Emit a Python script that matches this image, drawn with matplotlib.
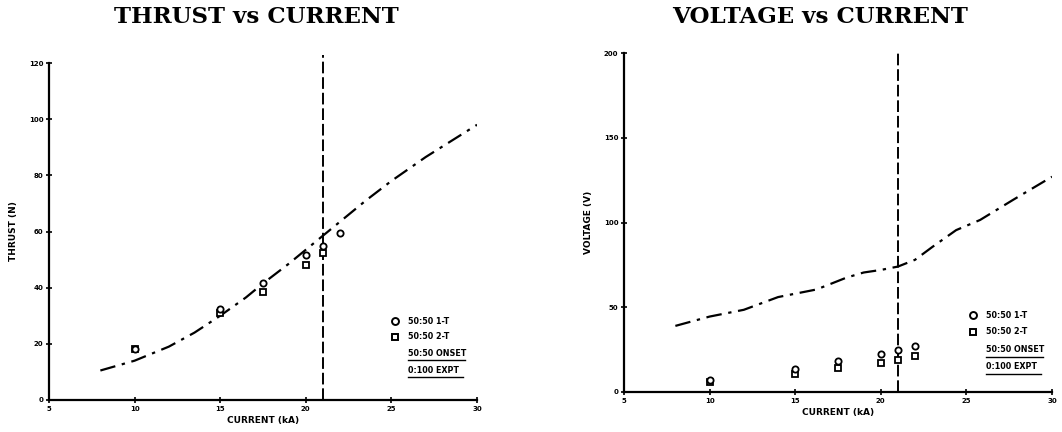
import matplotlib
matplotlib.use("Agg")
import matplotlib.pyplot as plt

# ---------------- data ----------------
x_ticks = [5, 10, 15, 20, 25, 30]
thrust_ticks = [0, 20, 40, 60, 80, 100, 120]
voltage_ticks = [0, 50, 100, 150, 200]

# THRUST vs CURRENT
thrust_1t_x = [10, 15, 17.5, 20, 21, 22]
thrust_1t_y = [18, 32.5, 41.5, 51.5, 55, 59.5]
thrust_2t_x = [10, 15, 17.5, 20, 21]
thrust_2t_y = [18, 31, 38.5, 48, 52.5]
thrust_onset_x = [8, 10, 12, 13.5, 15, 16.5, 17.5, 19, 20, 21, 22, 23.5, 25, 27, 30]
thrust_onset_y = [10.5, 14, 19, 24, 30, 36.5, 41.5, 48.5, 53.5, 58.5, 63.5, 71, 78, 86.5, 98]

# VOLTAGE vs CURRENT
volt_1t_x = [10, 15, 17.5, 20, 21, 22]
volt_1t_y = [7, 13.5, 18, 22.5, 24.5, 27]
volt_2t_x = [10, 15, 17.5, 20, 21, 22]
volt_2t_y = [6, 10.5, 14, 17, 19, 21]
volt_onset_x = [8, 10, 12, 14, 15, 16.25, 18, 19, 20, 21, 22, 23, 24.4, 25.8, 27.75, 30]
volt_onset_y = [39, 44.5, 48.5, 56, 58, 60.5, 67.5, 70.5, 72, 74, 78, 85.5, 95.5, 101.5, 113.5, 127]

onset_current = 21

legend_labels = ["50:50 1-T", "50:50 2-T", "50:50 ONSET", "0:100 EXPT"]

# ---------------- figure ----------------
fig = plt.figure(figsize=(10.62, 4.32), dpi=100)
fig.patch.set_facecolor("white")

ax1 = fig.add_axes([49/1062, 32/432, 428/1062, 337/432])
ax2 = fig.add_axes([624/1062, 40/432, 428/1062, 339/432])

dashdot = (0, (7, 3, 1.5, 3))
tickfont = dict(fontsize=5, fontweight="bold", family="DejaVu Sans")
labfont = dict(fontsize=6.5, fontweight="bold", family="DejaVu Sans")


def style(ax, yticks, ylabel):
    for s in ["top", "right"]:
        ax.spines[s].set_visible(False)
    for s in ["left", "bottom"]:
        ax.spines[s].set_linewidth(1.6)
    ax.set_xlim(5, 30)
    ax.set_ylim(yticks[0], yticks[-1])
    ax.set_xticks(x_ticks)
    ax.set_yticks(yticks)
    ax.set_xticklabels([str(t) for t in x_ticks], **tickfont)
    ax.set_yticklabels([str(t) for t in yticks], **tickfont)
    ax.tick_params(direction="inout", length=4, width=1.2, pad=2)
    ax.set_xlabel("CURRENT (kA)", labelpad=3, **labfont)
    ax.set_ylabel(ylabel, labelpad=8, **labfont)


def draw(ax, ox, oy, c_x, c_y, s_x, s_y, ytop, lx, ly):
    ax.plot(ox, oy, color="black", lw=1.6, linestyle=dashdot)
    ax.plot([onset_current, onset_current], [0, ytop], color="black", lw=1.4,
            linestyle=(0, (6, 2)), clip_on=False)
    ax.plot(s_x, s_y, linestyle="none", marker="s", ms=4.3, mfc="white",
            mec="black", mew=1.3)
    ax.plot(c_x, c_y, linestyle="none", marker="o", ms=4.5, mfc="white",
            mec="black", mew=1.3)
    # legend block
    tx = lx + 0.03
    ax.plot([lx], [ly[0]], transform=ax.transAxes, marker="o", ms=5, mfc="white",
            mec="black", mew=1.4, clip_on=False)
    ax.plot([lx], [ly[1]], transform=ax.transAxes, marker="s", ms=5, mfc="white",
            mec="black", mew=1.4, clip_on=False)
    for lab, yy in zip(legend_labels, ly):
        ax.text(tx, yy, lab, transform=ax.transAxes, va="center", ha="left",
                fontsize=5.8, fontweight="bold", family="DejaVu Sans")
    ax.plot([tx, tx + 0.135], [ly[2] - 0.02] * 2, transform=ax.transAxes,
            color="black", lw=1.0, clip_on=False)
    ax.plot([tx, tx + 0.13], [ly[3] - 0.02] * 2, transform=ax.transAxes,
            color="black", lw=1.0, clip_on=False)


style(ax1, thrust_ticks, "THRUST (N)")
draw(ax1, thrust_onset_x, thrust_onset_y, thrust_1t_x, thrust_1t_y,
     thrust_2t_x, thrust_2t_y, 123, 0.808, [0.234, 0.187, 0.139, 0.089])

style(ax2, voltage_ticks, "VOLTAGE (V)")
draw(ax2, volt_onset_x, volt_onset_y, volt_1t_x, volt_1t_y,
     volt_2t_x, volt_2t_y, 200, 0.815, [0.227, 0.177, 0.124, 0.074])

titlefont = dict(fontsize=16.5, fontweight="bold", family="DejaVu Serif",
                 ha="center", va="center")
fig.text(256/1062, 1 - 17/432, "THRUST vs CURRENT", **titlefont)
fig.text(820/1062, 1 - 17/432, "VOLTAGE vs CURRENT", **titlefont)

fig.savefig("out.png", dpi=100, facecolor="white")
